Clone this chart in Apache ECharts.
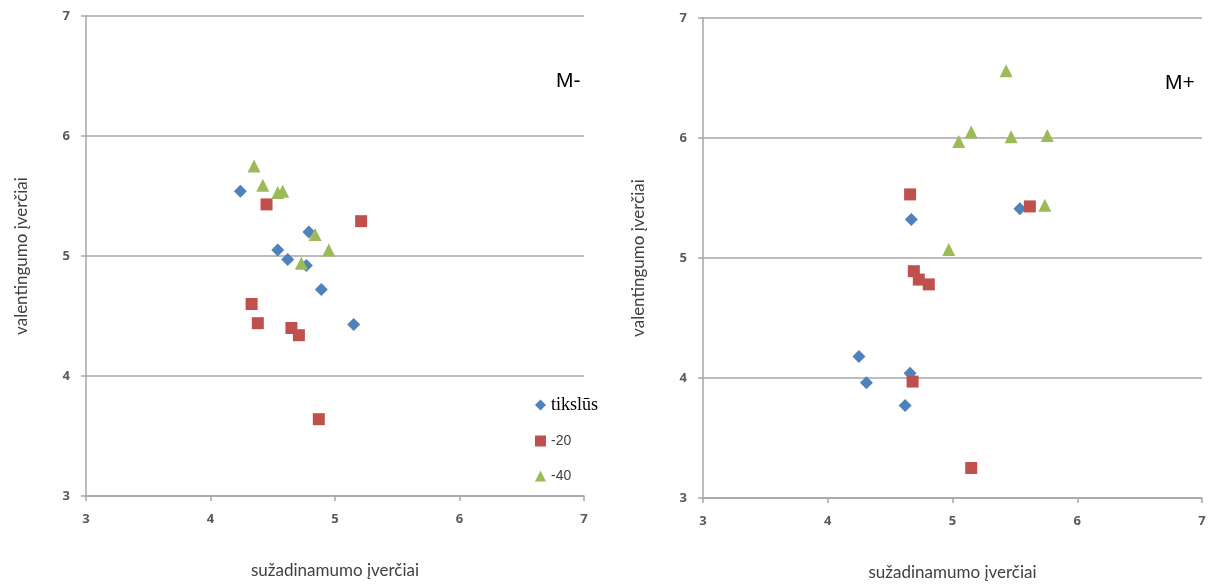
<!DOCTYPE html>
<html>
<head>
<meta charset="utf-8">
<script src="https://cdn.jsdelivr.net/npm/echarts@6/dist/echarts.min.js"></script>
<style>
  html, body { margin: 0; padding: 0; background: #fff; }
  #chart { width: 1211px; height: 587px; }
</style>
</head>
<body>
<div id="chart"></div>
<script>
// M- (kairė) — [sužadinamumas, valentingumas]
const leftTikslus = [[4.24, 5.54], [4.54, 5.05], [4.62, 4.97], [4.79, 5.20], [4.77, 4.92], [4.89, 4.72], [5.15, 4.43]];
const left20 = [[4.45, 5.43], [5.21, 5.29], [4.33, 4.60], [4.38, 4.44], [4.65, 4.40], [4.71, 4.34], [4.87, 3.64]];
const left40 = [[4.35, 5.75], [4.42, 5.59], [4.54, 5.53], [4.58, 5.54], [4.84, 5.18], [4.95, 5.05], [4.73, 4.94]];

// M+ (dešinė)
const rightTikslus = [[4.67, 5.32], [5.54, 5.41], [4.25, 4.18], [4.31, 3.96], [4.66, 4.04], [4.62, 3.77]];
const right20 = [[4.66, 5.53], [5.62, 5.43], [4.69, 4.89], [4.73, 4.82], [4.81, 4.78], [4.68, 3.97], [5.15, 3.25]];
const right40 = [[5.43, 6.56], [5.15, 6.05], [5.05, 5.97], [5.47, 6.01], [5.76, 6.02], [5.74, 5.44], [4.97, 5.07]];

const seriesNames = ['tikslūs', '-20', '-40'];
const axisMin = 3, axisMax = 7, axisStep = 1;

const chart = echarts.init(document.getElementById('chart'));

const colors = ['#4F81BD', '#C0504D', '#9BBB59'];
const symbols = ['path://M0,-1L1,0L0,1L-1,0Z', 'rect', 'triangle'];
const sizes = [13, 12, 13];

const tickLabel = { color: '#595959', fontFamily: 'Open Sans', fontWeight: 'bold', fontSize: 13 };
const nameText = { color: '#404040', fontFamily: 'Lato', fontSize: 17 };
const axisGray = { color: '#A6A6A6', width: 1.5 };

function xAxisFor(idx) {
    return {
        gridIndex: idx, type: 'value', min: axisMin, max: axisMax, interval: axisStep,
        name: 'sužadinamumo įverčiai', nameLocation: 'middle', nameGap: 66, nameTextStyle: nameText,
        axisLine: { show: true, onZero: false, lineStyle: axisGray },
        axisTick: { show: true, length: 5, lineStyle: axisGray },
        axisLabel: { ...tickLabel, margin: 17 },
        splitLine: { show: false }
    };
}

function yAxisFor(idx) {
    return {
        gridIndex: idx, type: 'value', min: axisMin, max: axisMax, interval: axisStep,
        name: 'valentingumo įverčiai', nameLocation: 'middle', nameGap: 56, nameTextStyle: nameText,
        axisLine: { show: true, onZero: false, lineStyle: axisGray },
        axisTick: { show: true, length: 5, lineStyle: axisGray },
        axisLabel: { ...tickLabel, margin: 16 },
        splitLine: { show: true, lineStyle: { color: '#A6A6A6', width: 1.5 } }
    };
}

function scatter(name, i, data, idx) {
    return {
        name: name, type: 'scatter', xAxisIndex: idx, yAxisIndex: idx,
        data: data, symbol: symbols[i], symbolSize: sizes[i],
        itemStyle: { color: colors[i], opacity: 1 },
        emphasis: { disabled: true }
    };
}

const option = {
    animation: false,
    backgroundColor: '#fff',
    title: [
        { text: 'M-', left: 551, top: 66, textStyle: { fontFamily: 'Liberation Sans', fontWeight: 'normal', fontSize: 21, color: '#000' } },
        { text: 'M+', left: 1160, top: 68, textStyle: { fontFamily: 'Liberation Sans', fontWeight: 'normal', fontSize: 21, color: '#000' } }
    ],
    legend: {
        orient: 'vertical', left: 530, top: 391, itemGap: 19, itemWidth: 11, itemHeight: 11,
        selectedMode: false,
        data: [
            { name: 'tikslūs', icon: symbols[0], textStyle: { fontFamily: 'Liberation Serif', fontSize: 18, color: '#000', lineHeight: 16 } },
            { name: '-20', icon: 'rect', textStyle: { fontFamily: 'Liberation Sans', fontSize: 14, color: '#404040', lineHeight: 16 } },
            { name: '-40', icon: 'triangle', textStyle: { fontFamily: 'Liberation Sans', fontSize: 14, color: '#404040', lineHeight: 16 } }
        ],
        itemStyle: { borderWidth: 0 }
    },
    grid: [
        { left: 86, right: 627, top: 16, bottom: 91 },
        { left: 703, right: 9, top: 18, bottom: 89 }
    ],
    xAxis: [xAxisFor(0), xAxisFor(1)],
    yAxis: [yAxisFor(0), yAxisFor(1)],
    series: [
        scatter(seriesNames[0], 0, leftTikslus, 0),
        scatter(seriesNames[1], 1, left20, 0),
        scatter(seriesNames[2], 2, left40, 0),
        scatter(seriesNames[0], 0, rightTikslus, 1),
        scatter(seriesNames[1], 1, right20, 1),
        scatter(seriesNames[2], 2, right40, 1)
    ]
};

chart.setOption(option);
</script>
</body>
</html>
